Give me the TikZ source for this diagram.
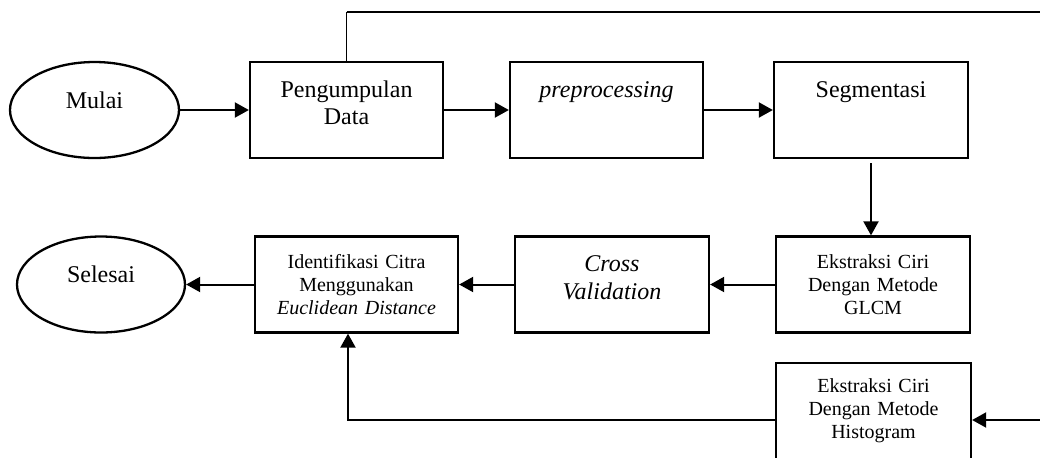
\documentclass[tikz,border=0pt]{standalone}
\usepackage{fontspec}
\setmainfont{Liberation Serif}
\usetikzlibrary{positioning, arrows.meta, shapes.geometric}
\tikzset{
  fcbase/.style  = {draw, line width=1.15pt, fill=white, align=center, inner sep=0pt,
                    minimum height=48pt, minimum width=96.5pt},
  fctop/.style   = {fcbase, text width=92pt, text height=17.5pt, text depth=30.5pt,
                    font=\fontsize{12pt}{13.8pt}\selectfont},
  fcmid/.style   = {fcbase, text width=96pt, font=\fontsize{10pt}{11.4pt}\selectfont},
  fcend/.style   = {ellipse, draw, line width=1.15pt, inner sep=0pt, minimum height=48pt,
                    minimum width=84.5pt, text height=8.5pt, text depth=10.5pt,
                    font=\fontsize{12pt}{13.8pt}\selectfont},
  fcgo/.style    = {-{Triangle[length=7pt,width=7.5pt]}, line width=1pt},
  fcrise/.style  = {line width=0.5pt},
}

\begin{document}
\begin{tikzpicture}[x=0.5pt, y=-0.5pt]
\useasboundingbox (0,0) rectangle (1040,457);

\node[fcend] (mulai) at (94.5,110) {Mulai};
\node[fctop] (peng)  at (346.5,110) {Pengumpulan\\Data};
\node[fctop] (prep)  at (606.5,110) {\textit{preprocessing}};
\node[fctop, minimum width=97pt] (segm) at (871,110) {Segmentasi};

\node[fcmid, minimum width=97pt] (glcm) at (873,284.5) {Ekstraksi Ciri\\Dengan Metode\\GLCM};
\node[fctop, minimum width=97pt, font=\fontsize{12pt}{14pt}\selectfont\itshape]
  (cross) at (612,284.5) {Cross\\Validation};
\node[fcmid, minimum width=101.5pt] (ident) at (356.5,284.5)
  {Identifikasi Citra\\Menggunakan\\\textit{Euclidean Distance}};
\node[fcend, minimum width=84pt] (selesai) at (101,284.5) {Selesai};

\node[fcmid, minimum width=97.5pt] (hist) at (873.5,411) {Ekstraksi Ciri\\Dengan Metode\\Histogram};

\coordinate (loop) at (1046,12);

\foreach \a/\b in {mulai/peng, peng/prep, prep/segm, glcm/cross, cross/ident, ident/selesai}{\draw[fcgo] (\a) -- (\b);}
\draw[fcgo, shorten <=2pt] (segm.south) -- (segm.south |- glcm.north);

\draw[fcrise] (peng.north) -- (peng.north |- loop);
\draw[fcgo] (peng.north |- loop) -- (loop) |- ([yshift=-4.5pt]hist.east);
\draw[fcgo] ([yshift=-4.5pt]hist.west) -| ([xshift=-4.25pt]ident.south);
\end{tikzpicture}
\end{document}
